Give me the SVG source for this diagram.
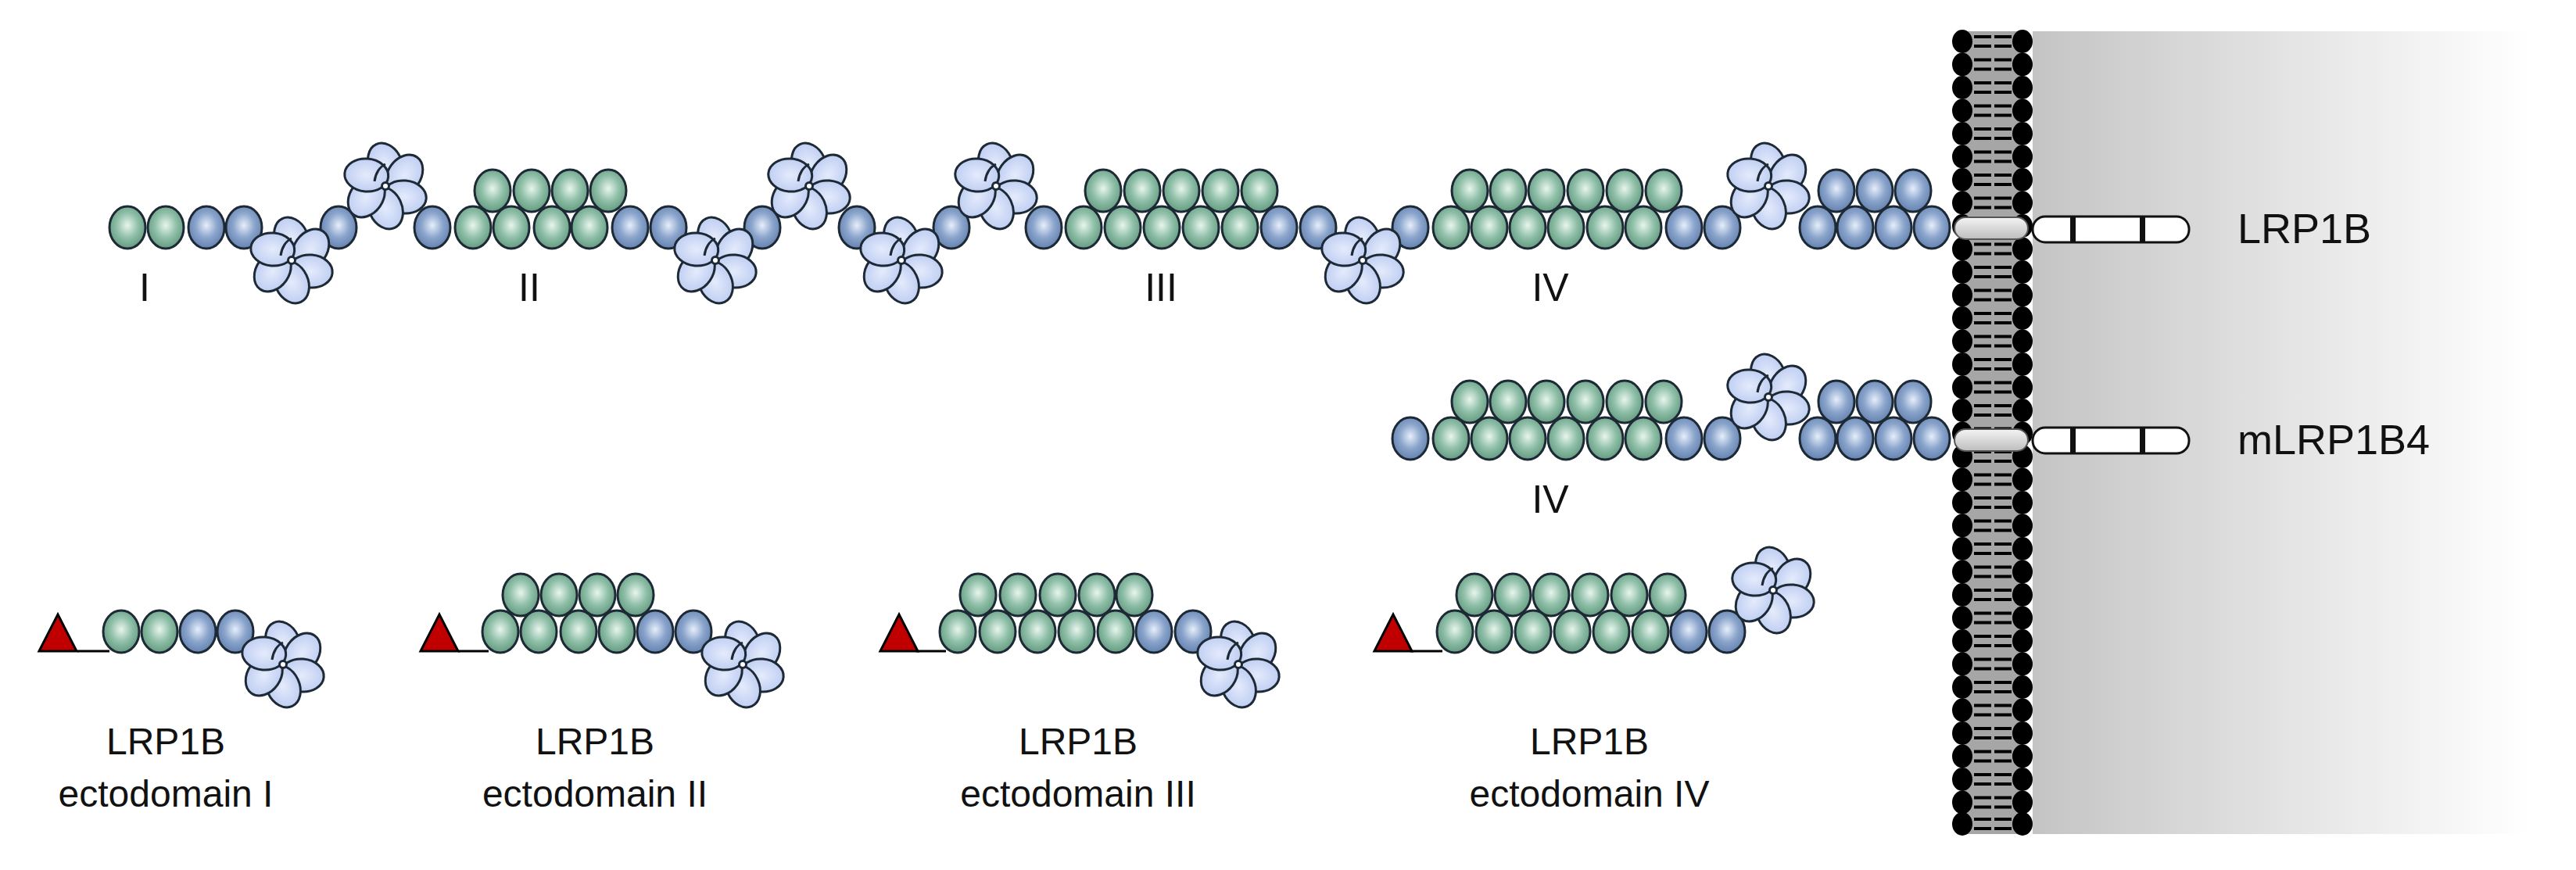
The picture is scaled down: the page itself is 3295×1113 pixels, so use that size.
<svg xmlns="http://www.w3.org/2000/svg" xmlns:xlink="http://www.w3.org/1999/xlink" width="3295" height="1113" viewBox="0 0 3295 1113">
<style>
.t{font-family:"Liberation Sans",Arial,sans-serif;fill:#111;text-anchor:middle}
.bs{stroke:#1d2a36;stroke-width:3}
</style>
<defs>
<linearGradient id="bg" x1="0" x2="1" y1="0" y2="0"><stop offset="0" stop-color="#c4c4c4"/><stop offset="0.55" stop-color="#e6e6e6"/><stop offset="1" stop-color="#ffffff"/></linearGradient>
<radialGradient id="gg" cx="0.5" cy="0.45" r="0.6"><stop offset="0" stop-color="#e8f5ee"/><stop offset="0.5" stop-color="#8fbfa8"/><stop offset="1" stop-color="#5c9479"/></radialGradient>
<radialGradient id="bb" cx="0.5" cy="0.45" r="0.6"><stop offset="0" stop-color="#e6eefb"/><stop offset="0.5" stop-color="#8aa4cb"/><stop offset="1" stop-color="#5d7cab"/></radialGradient>
<radialGradient id="pp" cx="0.5" cy="0.5" r="0.6"><stop offset="0" stop-color="#e4ebfc"/><stop offset="1" stop-color="#b9c9f0"/></radialGradient>
<linearGradient id="tm" x1="0" x2="0" y1="0" y2="1"><stop offset="0" stop-color="#f4f4f4"/><stop offset="1" stop-color="#bdbdbd"/></linearGradient>
<ellipse id="G" rx="23" ry="27" fill="url(#gg)" class="bs"/>
<ellipse id="B" rx="23" ry="27" fill="url(#bb)" class="bs"/>
<g id="F">
<ellipse transform="rotate(0) translate(0,-28) rotate(-25)" rx="21" ry="28" fill="url(#pp)" class="bs"/>
<ellipse transform="rotate(60) translate(0,-28) rotate(-25)" rx="21" ry="28" fill="url(#pp)" class="bs"/>
<ellipse transform="rotate(120) translate(0,-28) rotate(-25)" rx="21" ry="28" fill="url(#pp)" class="bs"/>
<ellipse transform="rotate(180) translate(0,-28) rotate(-25)" rx="21" ry="28" fill="url(#pp)" class="bs"/>
<ellipse transform="rotate(240) translate(0,-28) rotate(-25)" rx="21" ry="28" fill="url(#pp)" class="bs"/>
<ellipse transform="rotate(300) translate(0,-28) rotate(-25)" rx="21" ry="28" fill="url(#pp)" class="bs"/>
<path d="M0,-28 A21,28 0 0 0 -14,-6" transform="rotate(0)" fill="none" class="bs"/>
<circle r="4.5" fill="#fff" class="bs" stroke-width="2"/>
</g>
<g id="head"><ellipse cx="2510" rx="13" ry="15" fill="#000"/><ellipse cx="2587" rx="13" ry="15" fill="#000"/><path d="M2525,-6 h22 M2551,-6 h22 M2525,6 h22 M2551,6 h22" stroke="#000" stroke-width="4"/></g>
<path id="tri" d="M0,0 L24,-47 L48,0 Z" fill="#c00000" stroke="#000" stroke-width="3"/>
</defs>
<rect width="3295" height="1113" fill="#fff"/>
<rect x="2600" y="40" width="635" height="1027" fill="url(#bg)"/>
<g id="membrane">
<rect x="2510" y="40" width="77" height="1027" fill="#a6a6a6"/>
<use href="#head" y="53"/><use href="#head" y="82.5"/><use href="#head" y="112"/><use href="#head" y="141.5"/><use href="#head" y="171"/><use href="#head" y="200.5"/><use href="#head" y="230"/><use href="#head" y="259.5"/><use href="#head" y="289"/><use href="#head" y="318.5"/><use href="#head" y="348"/><use href="#head" y="377.5"/><use href="#head" y="407"/><use href="#head" y="436.5"/><use href="#head" y="466"/><use href="#head" y="495.5"/><use href="#head" y="525"/><use href="#head" y="554.5"/><use href="#head" y="584"/><use href="#head" y="613.5"/><use href="#head" y="643"/><use href="#head" y="672.5"/><use href="#head" y="702"/><use href="#head" y="731.5"/><use href="#head" y="761"/><use href="#head" y="790.5"/><use href="#head" y="820"/><use href="#head" y="849.5"/><use href="#head" y="879"/><use href="#head" y="908.5"/><use href="#head" y="938"/><use href="#head" y="967.5"/><use href="#head" y="997"/><use href="#head" y="1026.5"/><use href="#head" y="1054"/>
</g>
<g id="LRP1B">
<use href="#G" x="163" y="291"/><use href="#G" x="212" y="291"/><use href="#B" x="264" y="291"/><use href="#B" x="312" y="291"/>
<use href="#B" x="433" y="291"/><use href="#B" x="553" y="291"/>
<use href="#G" x="630" y="244"/><use href="#G" x="680" y="244"/><use href="#G" x="729" y="244"/><use href="#G" x="778" y="244"/>
<use href="#G" x="605" y="291"/><use href="#G" x="654" y="291"/><use href="#G" x="706" y="291"/><use href="#G" x="754" y="291"/>
<use href="#B" x="806" y="291"/><use href="#B" x="855" y="291"/><use href="#B" x="975" y="291"/><use href="#B" x="1096" y="291"/><use href="#B" x="1217" y="291"/><use href="#B" x="1335" y="291"/>
<use href="#G" x="1411" y="244"/><use href="#G" x="1461" y="244"/><use href="#G" x="1511" y="244"/><use href="#G" x="1561" y="244"/><use href="#G" x="1611" y="244"/>
<use href="#G" x="1386" y="291"/><use href="#G" x="1436" y="291"/><use href="#G" x="1486" y="291"/><use href="#G" x="1536" y="291"/><use href="#G" x="1586" y="291"/>
<use href="#B" x="1636" y="291"/><use href="#B" x="1686" y="291"/><use href="#B" x="1804" y="291"/>
<use href="#G" x="1880" y="244"/><use href="#G" x="1929" y="244"/><use href="#G" x="1978" y="244"/><use href="#G" x="2028" y="244"/><use href="#G" x="2078" y="244"/><use href="#G" x="2128" y="244"/>
<use href="#G" x="1856" y="291"/><use href="#G" x="1905" y="291"/><use href="#G" x="1954" y="291"/><use href="#G" x="2003" y="291"/><use href="#G" x="2053" y="291"/><use href="#G" x="2102" y="291"/>
<use href="#B" x="2154" y="291"/><use href="#B" x="2203" y="291"/>
<use href="#B" x="2349" y="244"/><use href="#B" x="2398" y="244"/><use href="#B" x="2447" y="244"/>
<use href="#B" x="2325" y="291"/><use href="#B" x="2373" y="291"/><use href="#B" x="2422" y="291"/><use href="#B" x="2471" y="291"/>
<use href="#F" x="373" y="333"/><use href="#F" x="493" y="238"/><use href="#F" x="915" y="333"/><use href="#F" x="1035" y="238"/><use href="#F" x="1153" y="333"/><use href="#F" x="1274" y="238"/><use href="#F" x="1743" y="333"/><use href="#F" x="2262" y="238"/>
<rect x="2500" y="278" width="94" height="28" rx="14" fill="url(#tm)" stroke="#555" stroke-width="2"/>
<rect x="2600" y="277" width="200" height="33" rx="16" fill="#fff" stroke="#111" stroke-width="3"/>
<rect x="2648" y="277" width="7" height="33" fill="#111"/><rect x="2737" y="277" width="7" height="33" fill="#111"/>
<text class="t" x="185" y="385" font-size="50">I</text><text class="t" x="677" y="385" font-size="50">II</text><text class="t" x="1485" y="385" font-size="50">III</text><text class="t" x="1983" y="385" font-size="50">IV</text>
<text class="t" x="2862" y="311" font-size="54" style="text-anchor:start">LRP1B</text>
</g>
<g id="mLRP1B4">
<use href="#B" x="1804" y="561"/>
<use href="#G" x="1880" y="514"/><use href="#G" x="1929" y="514"/><use href="#G" x="1978" y="514"/><use href="#G" x="2028" y="514"/><use href="#G" x="2078" y="514"/><use href="#G" x="2128" y="514"/>
<use href="#G" x="1856" y="561"/><use href="#G" x="1905" y="561"/><use href="#G" x="1954" y="561"/><use href="#G" x="2003" y="561"/><use href="#G" x="2053" y="561"/><use href="#G" x="2102" y="561"/>
<use href="#B" x="2154" y="561"/><use href="#B" x="2203" y="561"/>
<use href="#B" x="2349" y="514"/><use href="#B" x="2398" y="514"/><use href="#B" x="2447" y="514"/>
<use href="#B" x="2325" y="561"/><use href="#B" x="2373" y="561"/><use href="#B" x="2422" y="561"/><use href="#B" x="2471" y="561"/>
<use href="#F" x="2262" y="508"/>
<rect x="2500" y="549" width="94" height="28" rx="14" fill="url(#tm)" stroke="#555" stroke-width="2"/>
<rect x="2600" y="547" width="200" height="33" rx="16" fill="#fff" stroke="#111" stroke-width="3"/>
<rect x="2648" y="547" width="7" height="33" fill="#111"/><rect x="2737" y="547" width="7" height="33" fill="#111"/>
<text class="t" x="1983" y="656" font-size="50">IV</text>
<text class="t" x="2862" y="581" font-size="54" style="text-anchor:start">mLRP1B4</text>
</g>
<g id="ecto1">
<path d="M99,833 H140" stroke="#000" stroke-width="3"/><use href="#tri" x="50" y="833"/>
<use href="#G" x="155" y="808"/><use href="#G" x="204" y="808"/><use href="#B" x="253" y="808"/><use href="#B" x="301" y="808"/>
<use href="#F" x="362" y="850"/>
<text class="t" x="212" y="965" font-size="48">LRP1B</text><text class="t" x="212" y="1032" font-size="48">ectodomain I</text>
</g>
<g id="ecto2">
<path d="M586,833 H625" stroke="#000" stroke-width="3"/><use href="#tri" x="538" y="833"/>
<use href="#G" x="666" y="761"/><use href="#G" x="715" y="761"/><use href="#G" x="764" y="761"/><use href="#G" x="813" y="761"/>
<use href="#G" x="640" y="808"/><use href="#G" x="689" y="808"/><use href="#G" x="740" y="808"/><use href="#G" x="789" y="808"/>
<use href="#B" x="838" y="808"/><use href="#B" x="887" y="808"/>
<use href="#F" x="950" y="850"/>
<text class="t" x="761" y="965" font-size="48">LRP1B</text><text class="t" x="761" y="1032" font-size="48">ectodomain II</text>
</g>
<g id="ecto3">
<path d="M1172,833 H1210" stroke="#000" stroke-width="3"/><use href="#tri" x="1126" y="833"/>
<use href="#G" x="1251" y="761"/><use href="#G" x="1302" y="761"/><use href="#G" x="1353" y="761"/><use href="#G" x="1403" y="761"/><use href="#G" x="1451" y="761"/>
<use href="#G" x="1225" y="808"/><use href="#G" x="1276" y="808"/><use href="#G" x="1327" y="808"/><use href="#G" x="1377" y="808"/><use href="#G" x="1427" y="808"/>
<use href="#B" x="1476" y="808"/><use href="#B" x="1526" y="808"/>
<use href="#F" x="1584" y="850"/>
<text class="t" x="1379" y="965" font-size="48">LRP1B</text><text class="t" x="1379" y="1032" font-size="48">ectodomain III</text>
</g>
<g id="ecto4">
<path d="M1804,833 H1845" stroke="#000" stroke-width="3"/><use href="#tri" x="1758" y="833"/>
<use href="#G" x="1886" y="761"/><use href="#G" x="1935" y="761"/><use href="#G" x="1984" y="761"/><use href="#G" x="2034" y="761"/><use href="#G" x="2084" y="761"/><use href="#G" x="2133" y="761"/>
<use href="#G" x="1861" y="808"/><use href="#G" x="1911" y="808"/><use href="#G" x="1961" y="808"/><use href="#G" x="2011" y="808"/><use href="#G" x="2061" y="808"/><use href="#G" x="2111" y="808"/>
<use href="#B" x="2160" y="808"/><use href="#B" x="2209" y="808"/>
<use href="#F" x="2268" y="755"/>
<text class="t" x="2033" y="965" font-size="48">LRP1B</text><text class="t" x="2033" y="1032" font-size="48">ectodomain IV</text>
</g>
<g id="connectors"/>
</svg>
